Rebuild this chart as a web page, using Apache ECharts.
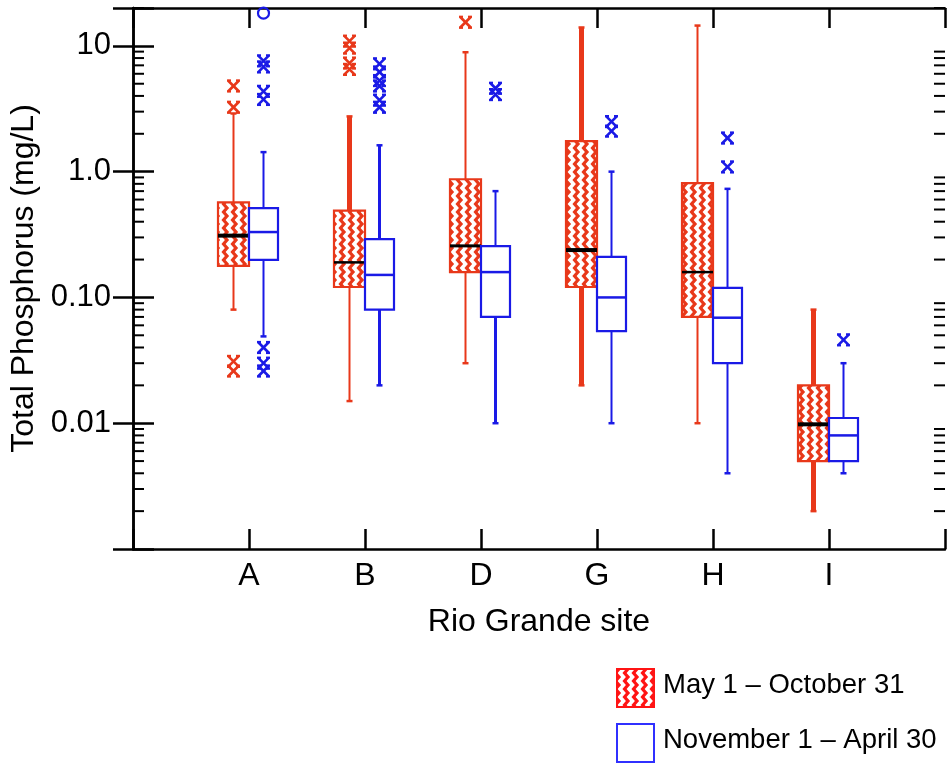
<!DOCTYPE html>
<html><head><meta charset="utf-8">
<script src="https://cdn.jsdelivr.net/npm/echarts@6/dist/echarts.min.js"></script>
<style>html,body{margin:0;padding:0;background:#fff}#chart{width:947px;height:763px}</style>
</head><body><div id="chart"></div>
<script>
// ---------- data ----------
const sites = ['A', 'B', 'D', 'G', 'H', 'I'];
// [min whisker, Q1, median, Q3, max whisker]
const summerStats = [
  [0.08, 0.178, 0.31, 0.57, 2.9],
  [0.015, 0.121, 0.19, 0.49, 2.75],
  [0.03, 0.159, 0.257, 0.87, 8.9],
  [0.02, 0.121, 0.238, 1.75, 14.0],
  [0.01, 0.07, 0.159, 0.81, 14.5],
  [0.002, 0.005, 0.0098, 0.02, 0.08]
];
const winterStats = [
  [0.049, 0.199, 0.331, 0.513, 1.43],
  [0.02, 0.08, 0.151, 0.291, 1.62],
  [0.01, 0.07, 0.159, 0.256, 0.70],
  [0.01, 0.054, 0.10, 0.21, 1.0],
  [0.004, 0.03, 0.069, 0.119, 0.73],
  [0.004, 0.005, 0.008, 0.011, 0.03]
];
// [site index, value]
const summerOutliers = [
  [0, 4.8], [0, 3.25], [0, 0.031], [0, 0.026],
  [1, 10.9], [1, 9.6], [1, 7.3], [1, 6.5],
  [2, 15.4]
];
const winterOutliers = [
  [0, 7.6], [0, 6.8], [0, 4.35], [0, 3.75], [0, 0.040], [0, 0.030], [0, 0.026],
  [1, 7.2], [1, 6.2], [1, 5.3], [1, 4.8], [1, 3.7], [1, 3.25],
  [2, 4.6], [2, 4.1],
  [3, 2.5], [3, 2.1],
  [4, 1.85], [4, 1.09],
  [5, 0.046]
];
const winterFarOutliers = [[0, 18.2]];
const yTickLabels = {'1': '10', '0': '1.0', '-1': '0.10', '-2': '0.01'};
const legendLabels = ['May 1 \u2013 October 31', 'November 1 \u2013 April 30'];

// ---------- styles ----------
const RED = '#e8381a', BLUE = '#1a1ae6', LRED = '#ff1414', LBLUE = '#3030ff';
const summerWhiskerW = [[2, 2], [2, 5], [2, 2], [5, 5], [2, 2], [5, 5]]; // [lower, upper]
const winterWhiskerW = [[2, 2], [3, 3], [3, 2], [2, 2], [2, 2], [2, 2]];
const summerMedianW = [4, 2.5, 3, 4, 2.5, 4];
const FONT = "'Liberation Sans', Arial, Helvetica, sans-serif";

function makePattern(col) {
  const c = document.createElement('canvas');
  c.width = 9; c.height = 8;
  const g = c.getContext('2d');
  g.fillStyle = col; g.fillRect(0, 0, 9, 8);
  g.strokeStyle = '#fff'; g.lineWidth = 3.6;
  g.beginPath();
  g.moveTo(3, -4); g.lineTo(6.5, 0); g.lineTo(3, 4); g.lineTo(6.5, 8); g.lineTo(3, 12);
  g.stroke();
  return c;
}
const plotPattern = {image: makePattern(RED), repeat: 'repeat'};
const legendPattern = {image: makePattern(LRED), repeat: 'repeat'};

function boxSeries(stats, side, whiskerW, color, fill, medColor, medW) {
  return {
    type: 'custom', xAxisIndex: 0, yAxisIndex: 0, z: 3,
    data: stats.map((d, i) => [i + 1].concat(d)),
    renderItem(params, api) {
      const i = params.dataIndex;
      const s = api.value(0);
      const xc = api.coord([s, api.value(3)])[0];
      const y = k => api.coord([s, api.value(k)])[1];
      const w = side < 0 ? 31 : 29;
      const x0 = side < 0 ? xc - w : xc;
      const xm = x0 + w / 2;
      const lw = whiskerW[i];
      const mw = Array.isArray(medW) ? medW[i] : medW;
      const ln = (x1, y1, x2, y2, width, col) => ({
        type: 'line', shape: {x1, y1, x2, y2},
        style: {stroke: col, lineWidth: width}
      });
      return {
        type: 'group',
        children: [
          ln(xm, y(5), xm, y(4), lw[1], color),
          ln(xm, y(2), xm, y(1), lw[0], color),
          ln(xm - 3, y(5), xm + 3, y(5), 2.5, color),
          ln(xm - 3, y(1), xm + 3, y(1), 2.5, color),
          {type: 'rect', shape: {x: x0, y: y(4), width: w, height: y(2) - y(4)},
           style: {fill: fill, stroke: color, lineWidth: 2.2}},
          ln(x0, y(3), x0 + w, y(3), mw, medColor)
        ]
      };
    }
  };
}

function outlierSeries(data, side, color, circle) {
  return {
    type: 'custom', xAxisIndex: 0, yAxisIndex: 0, z: 4,
    data: data.map(d => [d[0] + 1, d[1]]),
    renderItem(params, api) {
      const p = api.coord([api.value(0), api.value(1)]);
      const cx = p[0] + (side < 0 ? -15.5 : 14.5);
      const cy = p[1];
      if (circle) {
        return {type: 'circle', shape: {cx, cy, r: 5.5},
                style: {fill: 'none', stroke: color, lineWidth: 2.2}};
      }
      const r = 5.5;
      return {
        type: 'group', x: cx, y: cy,
        children: [
          {type: 'line', shape: {x1: -r, y1: -r, x2: r, y2: r}, style: {stroke: color, lineWidth: 2.6}},
          {type: 'line', shape: {x1: r, y1: -r, x2: -r, y2: r}, style: {stroke: color, lineWidth: 2.6}},
          {type: 'line', shape: {x1: -r - 1, y1: -r, x2: -r + 3, y2: -r}, style: {stroke: color, lineWidth: 2.2}},
          {type: 'line', shape: {x1: r - 3, y1: -r, x2: r + 1, y2: -r}, style: {stroke: color, lineWidth: 2.2}},
          {type: 'line', shape: {x1: -r - 1, y1: r, x2: -r + 3, y2: r}, style: {stroke: color, lineWidth: 2.2}},
          {type: 'line', shape: {x1: r - 3, y1: r, x2: r + 1, y2: r}, style: {stroke: color, lineWidth: 2.2}}
        ]
      };
    }
  };
}

// minor ticks on the log axis (2..9 of every decade), both sides
const minorValues = [];
[0.001, 0.01, 0.1, 1, 10].forEach(dec => {
  for (let m = 2; m <= 9; m++) { if (dec * m <= 20) minorValues.push(dec * m); }
});
const minorTickSeries = {
  type: 'custom', xAxisIndex: 0, yAxisIndex: 0, z: 5, silent: true,
  data: [[0]],
  renderItem(params, api) {
    const cs = params.coordSys;
    const children = [];
    minorValues.forEach(v => {
      const yy = api.coord([0, v])[1];
      children.push({type: 'line', shape: {x1: cs.x, y1: yy, x2: cs.x + 11, y2: yy}, style: {stroke: '#000', lineWidth: 2}});
      children.push({type: 'line', shape: {x1: cs.x + cs.width - 11, y1: yy, x2: cs.x + cs.width, y2: yy}, style: {stroke: '#000', lineWidth: 2}});
    });
    return {type: 'group', children};
  }
};

const axisLine = {show: true, lineStyle: {color: '#000', width: 2.5}};
const chart = echarts.init(document.getElementById('chart'), null, {renderer: 'canvas'});
chart.setOption({
  animation: false,
  backgroundColor: '#fff',
  textStyle: {fontFamily: FONT},
  grid: {left: 133, right: 2, top: 8, bottom: 214, containLabel: false, outerBoundsMode: 'none'},
  xAxis: [
    {type: 'value', min: 0, max: 7, interval: 1, position: 'bottom',
     axisLine, axisTick: {inside: true, length: 20, lineStyle: {color: '#000', width: 2.5}},
     axisLabel: {formatter: v => sites[v - 1] || '', fontSize: 32, color: '#000', margin: 11, fontFamily: FONT},
     splitLine: {show: false},
     name: 'Rio Grande site', nameLocation: 'middle', nameGap: 57,
     nameTextStyle: {fontSize: 32, color: '#000', fontFamily: FONT}},
    {type: 'value', min: 0, max: 7, interval: 1, position: 'top',
     axisLine, axisTick: {inside: true, length: 20, lineStyle: {color: '#000', width: 2.5}},
     axisLabel: {show: false}, splitLine: {show: false}}
  ],
  yAxis: [
    {type: 'log', logBase: 10, min: 0.001, max: 20, position: 'left',
     axisLine, axisTick: {inside: true, length: 21, lineStyle: {color: '#000', width: 2.5}},
     axisLabel: {
       fontSize: 31, color: '#000', margin: 22, fontFamily: FONT,
       formatter: v => {
         const e = Math.log10(v), r = Math.round(e);
         return Math.abs(e - r) < 1e-6 && yTickLabels[String(r)] ? yTickLabels[String(r)] : '';
       }
     },
     splitLine: {show: false},
     name: 'Total Phosphorus (mg/L)', nameLocation: 'middle', nameGap: 86,
     nameTextStyle: {fontSize: 32, color: '#000', fontFamily: FONT}},
    {type: 'log', logBase: 10, min: 0.001, max: 20, position: 'right',
     axisLine, axisTick: {inside: true, length: 20, lineStyle: {color: '#000', width: 2.5}},
     axisLabel: {show: false}, splitLine: {show: false}}
  ],
  series: [
    minorTickSeries,
    boxSeries(summerStats, -1, summerWhiskerW, RED, plotPattern, '#000', summerMedianW),
    boxSeries(winterStats, 1, winterWhiskerW, BLUE, '#fff', BLUE, 2.5),
    outlierSeries(summerOutliers, -1, RED, false),
    outlierSeries(winterOutliers, 1, BLUE, false),
    outlierSeries(winterFarOutliers, 1, BLUE, true)
  ],
  graphic: [
    {type: 'rect', left: 616, top: 668, shape: {width: 37, height: 38},
     style: {fill: legendPattern, stroke: LRED, lineWidth: 2}},
    {type: 'text', left: 663, top: 671,
     style: {text: legendLabels[0], fontSize: 27.5, fill: '#000', fontFamily: FONT}},
    {type: 'rect', left: 616, top: 723, shape: {width: 37, height: 38},
     style: {fill: '#fff', stroke: LBLUE, lineWidth: 2}},
    {type: 'text', left: 663, top: 726,
     style: {text: legendLabels[1], fontSize: 27.5, fill: '#000', fontFamily: FONT}}
  ]
});
</script>
</body></html>
